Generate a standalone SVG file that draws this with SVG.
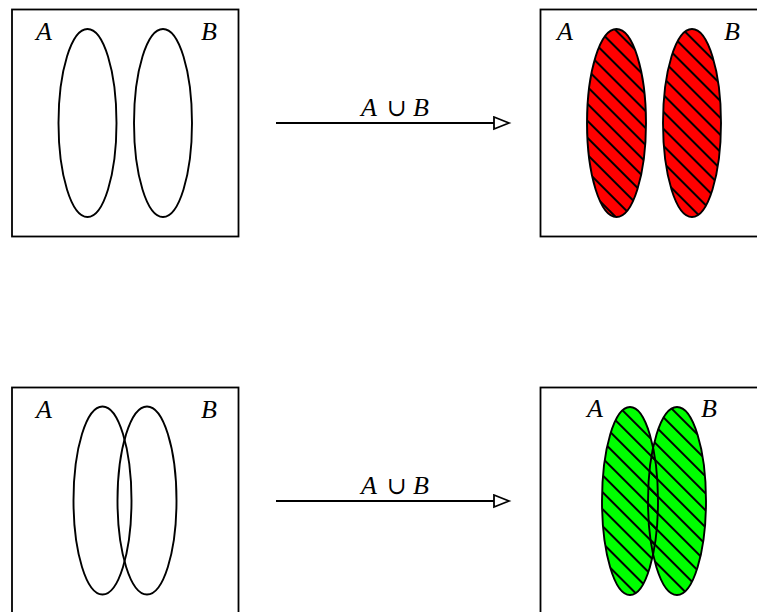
<svg xmlns="http://www.w3.org/2000/svg" width="757" height="612" viewBox="0 0 757 612">
<style>
.box{fill:#fff;stroke:#000;stroke-width:1.8}
.ell{fill:none;stroke:#000;stroke-width:1.9}
.lbl{font-family:"Liberation Serif","DejaVu Serif",serif;font-style:italic;font-size:26px;fill:#000}
.op{font-style:normal;font-size:24px}
.conn{stroke:#000;stroke-width:1.8;fill:none}
</style>
<defs>
<pattern id="hatch" patternUnits="userSpaceOnUse" width="12" height="12" patternTransform="rotate(45)">
<line x1="0" y1="6" x2="12" y2="6" stroke="#000" stroke-width="2"/>
</pattern>
<marker id="tri" markerWidth="20" markerHeight="18" refX="1" refY="7" orient="auto" markerUnits="userSpaceOnUse">
<path d="M1,1 L16,7 L1,13 Z" fill="#fff" stroke="#000" stroke-width="1.8"/>
</marker>
</defs>

<g id="top-left">
<rect class="box" x="12" y="9.5" width="226.5" height="227"/>
<ellipse class="ell" cx="87.5" cy="123" rx="29" ry="94"/>
<ellipse class="ell" cx="163" cy="123" rx="29" ry="94"/>
<text class="lbl" x="36" y="40">A</text>
<text class="lbl" x="201" y="40">B</text>
</g>

<g id="top-right">
<rect class="box" x="540.5" y="9.5" width="226.5" height="227"/>
<ellipse cx="616.5" cy="123" rx="29.5" ry="94" fill="#ff0000"/>
<ellipse cx="692" cy="123" rx="29" ry="94" fill="#ff0000"/>
<ellipse cx="616.5" cy="123" rx="29.5" ry="94" fill="url(#hatch)"/>
<ellipse cx="692" cy="123" rx="29" ry="94" fill="url(#hatch)"/>
<ellipse class="ell" cx="616.5" cy="123" rx="29.5" ry="94"/>
<ellipse class="ell" cx="692" cy="123" rx="29" ry="94"/>
<text class="lbl" x="557" y="40">A</text>
<text class="lbl" x="724" y="40">B</text>
</g>

<g id="bottom-left">
<rect class="box" x="12" y="387.5" width="226.5" height="240"/>
<ellipse class="ell" cx="102.5" cy="500.5" rx="29" ry="94"/>
<ellipse class="ell" cx="147" cy="500.5" rx="29.5" ry="94"/>
<text class="lbl" x="36" y="418">A</text>
<text class="lbl" x="201" y="418">B</text>
</g>

<g id="bottom-right">
<rect class="box" x="540.5" y="387.5" width="226.5" height="240"/>
<ellipse cx="630" cy="501" rx="28" ry="94" fill="#00ff00"/>
<ellipse cx="677" cy="501" rx="29" ry="94" fill="#00ff00"/>
<ellipse cx="630" cy="501" rx="28" ry="94" fill="url(#hatch)"/>
<ellipse cx="677" cy="501" rx="29" ry="94" fill="url(#hatch)"/>
<ellipse class="ell" cx="630" cy="501" rx="28" ry="94"/>
<ellipse class="ell" cx="677" cy="501" rx="29" ry="94"/>
<text class="lbl" x="587" y="417">A</text>
<text class="lbl" x="701" y="417">B</text>
</g>

<g id="connectors">
<line class="conn" x1="276" y1="123" x2="494" y2="123" marker-end="url(#tri)"/>
<text class="lbl" y="116"><tspan x="361">A</tspan><tspan class="op" x="387">∪</tspan><tspan x="413">B</tspan></text>
<line class="conn" x1="276" y1="501" x2="494" y2="501" marker-end="url(#tri)"/>
<text class="lbl" y="494"><tspan x="361">A</tspan><tspan class="op" x="387">∪</tspan><tspan x="413">B</tspan></text>
</g>
</svg>
